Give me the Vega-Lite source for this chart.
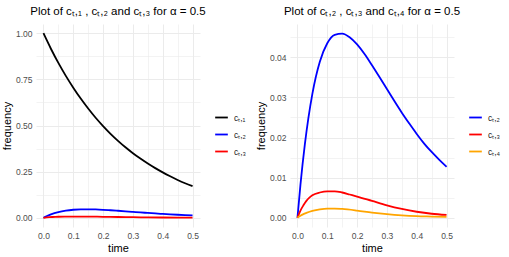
{
  "$schema": "https://vega.github.io/schema/vega-lite/v6.json",
  "padding": {"left": 1, "top": 5, "right": 5, "bottom": 5},
  "background": "white",
  "data": {"values": [
    {"s": "cₜ,₁", "t": 0, "v": 1},
    {"s": "cₜ,₁", "t": 0.025, "v": 0.916},
    {"s": "cₜ,₁", "t": 0.05, "v": 0.839},
    {"s": "cₜ,₁", "t": 0.075, "v": 0.769},
    {"s": "cₜ,₁", "t": 0.1, "v": 0.705},
    {"s": "cₜ,₁", "t": 0.125, "v": 0.646},
    {"s": "cₜ,₁", "t": 0.15, "v": 0.592},
    {"s": "cₜ,₁", "t": 0.175, "v": 0.542},
    {"s": "cₜ,₁", "t": 0.2, "v": 0.497},
    {"s": "cₜ,₁", "t": 0.225, "v": 0.455},
    {"s": "cₜ,₁", "t": 0.25, "v": 0.417},
    {"s": "cₜ,₁", "t": 0.275, "v": 0.382},
    {"s": "cₜ,₁", "t": 0.3, "v": 0.35},
    {"s": "cₜ,₁", "t": 0.325, "v": 0.321},
    {"s": "cₜ,₁", "t": 0.35, "v": 0.294},
    {"s": "cₜ,₁", "t": 0.375, "v": 0.269},
    {"s": "cₜ,₁", "t": 0.4, "v": 0.246},
    {"s": "cₜ,₁", "t": 0.425, "v": 0.225},
    {"s": "cₜ,₁", "t": 0.45, "v": 0.205},
    {"s": "cₜ,₁", "t": 0.475, "v": 0.187},
    {"s": "cₜ,₁", "t": 0.5, "v": 0.171},
    {"s": "cₜ,₂", "t": 0, "v": 0},
    {"s": "cₜ,₂", "t": 0.01, "v": 0.0082},
    {"s": "cₜ,₂", "t": 0.025, "v": 0.0184},
    {"s": "cₜ,₂", "t": 0.05, "v": 0.0309},
    {"s": "cₜ,₂", "t": 0.075, "v": 0.0389},
    {"s": "cₜ,₂", "t": 0.1, "v": 0.0435},
    {"s": "cₜ,₂", "t": 0.125, "v": 0.0456},
    {"s": "cₜ,₂", "t": 0.15, "v": 0.0459},
    {"s": "cₜ,₂", "t": 0.175, "v": 0.045},
    {"s": "cₜ,₂", "t": 0.2, "v": 0.0432},
    {"s": "cₜ,₂", "t": 0.225, "v": 0.0408},
    {"s": "cₜ,₂", "t": 0.25, "v": 0.038},
    {"s": "cₜ,₂", "t": 0.275, "v": 0.0351},
    {"s": "cₜ,₂", "t": 0.3, "v": 0.0321},
    {"s": "cₜ,₂", "t": 0.325, "v": 0.0291},
    {"s": "cₜ,₂", "t": 0.35, "v": 0.0262},
    {"s": "cₜ,₂", "t": 0.375, "v": 0.0235},
    {"s": "cₜ,₂", "t": 0.4, "v": 0.0209},
    {"s": "cₜ,₂", "t": 0.425, "v": 0.0185},
    {"s": "cₜ,₂", "t": 0.45, "v": 0.0164},
    {"s": "cₜ,₂", "t": 0.475, "v": 0.0145},
    {"s": "cₜ,₂", "t": 0.5, "v": 0.0127},
    {"s": "cₜ,₃", "t": 0, "v": 0},
    {"s": "cₜ,₃", "t": 0.01, "v": 0.0018},
    {"s": "cₜ,₃", "t": 0.02, "v": 0.0031},
    {"s": "cₜ,₃", "t": 0.03, "v": 0.0042},
    {"s": "cₜ,₃", "t": 0.04, "v": 0.005},
    {"s": "cₜ,₃", "t": 0.05, "v": 0.0056},
    {"s": "cₜ,₃", "t": 0.075, "v": 0.0063},
    {"s": "cₜ,₃", "t": 0.1, "v": 0.0066},
    {"s": "cₜ,₃", "t": 0.125, "v": 0.0066},
    {"s": "cₜ,₃", "t": 0.15, "v": 0.0063},
    {"s": "cₜ,₃", "t": 0.175, "v": 0.0058},
    {"s": "cₜ,₃", "t": 0.2, "v": 0.0053},
    {"s": "cₜ,₃", "t": 0.25, "v": 0.0042},
    {"s": "cₜ,₃", "t": 0.3, "v": 0.0031},
    {"s": "cₜ,₃", "t": 0.35, "v": 0.0022},
    {"s": "cₜ,₃", "t": 0.4, "v": 0.0015},
    {"s": "cₜ,₃", "t": 0.45, "v": 0.001},
    {"s": "cₜ,₃", "t": 0.5, "v": 0.0007},
    {"s": "cₜ,₄", "t": 0, "v": 0},
    {"s": "cₜ,₄", "t": 0.01, "v": 0.0005},
    {"s": "cₜ,₄", "t": 0.02, "v": 0.0009},
    {"s": "cₜ,₄", "t": 0.03, "v": 0.0012},
    {"s": "cₜ,₄", "t": 0.05, "v": 0.0017},
    {"s": "cₜ,₄", "t": 0.075, "v": 0.0021},
    {"s": "cₜ,₄", "t": 0.1, "v": 0.0023},
    {"s": "cₜ,₄", "t": 0.125, "v": 0.0023},
    {"s": "cₜ,₄", "t": 0.15, "v": 0.0022},
    {"s": "cₜ,₄", "t": 0.2, "v": 0.0018},
    {"s": "cₜ,₄", "t": 0.25, "v": 0.0013},
    {"s": "cₜ,₄", "t": 0.3, "v": 0.0009},
    {"s": "cₜ,₄", "t": 0.35, "v": 0.0006},
    {"s": "cₜ,₄", "t": 0.4, "v": 0.0004},
    {"s": "cₜ,₄", "t": 0.45, "v": 0.0003},
    {"s": "cₜ,₄", "t": 0.5, "v": 0.0002}
  ]},
  "config": {
    "font": "Liberation Sans",
    "view": {"stroke": null},
    "axis": {
      "ticks": false, "domain": false,
      "labelColor": "#4D4D4D", "labelFontSize": 8.5, "labelPadding": 4,
      "titleFontSize": 11, "titleFontWeight": "normal", "titleColor": "#000000",
      "titlePadding": 3,
      "gridColor": "#EBEBEB"
    },
    "legend": {
      "title": null, "symbolType": "stroke", "symbolStrokeWidth": 1.8, "symbolSize": 160,
      "labelFontSize": 8.5, "labelColor": "#1a1a1a", "rowPadding": 5, "labelOffset": 5, "padding": 0
    },
    "title": {"fontSize": 11.5, "fontWeight": "normal", "color": "#000000", "frame": "group", "anchor": "middle", "offset": 7}
  },
  "spacing": 8,
  "resolve": {"scale": {"color": "independent", "y": "independent"}, "legend": {"color": "independent"}},
  "hconcat": [
    {
      "title": "Plot of cₜ,₁ , cₜ,₂ and cₜ,₃ for α = 0.5",
      "width": 164, "height": 203,
      "transform": [{"filter": {"field": "s", "oneOf": ["cₜ,₁", "cₜ,₂", "cₜ,₃"]}}],
      "mark": {"type": "line", "strokeWidth": 1.8, "interpolate": "monotone"},
      "encoding": {
        "x": {"field": "t", "type": "quantitative", "title": "time",
          "scale": {"domain": [-0.025, 0.525], "nice": false, "zero": false},
          "axis": {"values": [0, 0.05, 0.1, 0.15, 0.2, 0.25, 0.3, 0.35, 0.4, 0.45, 0.5],
            "labelExpr": "round(datum.value*100) % 10 == 0 ? format(datum.value, '.1f') : ''",
            "gridWidth": {"condition": {"test": "round(datum.value*100) % 10 == 0", "value": 1}, "value": 0.6}}},
        "y": {"field": "v", "type": "quantitative", "title": "frequency",
          "scale": {"domain": [-0.05, 1.05], "nice": false, "zero": false},
          "axis": {"values": [0, 0.125, 0.25, 0.375, 0.5, 0.625, 0.75, 0.875, 1],
            "labelExpr": "round(datum.value*1000) % 250 == 0 ? format(datum.value, '.2f') : ''",
            "gridWidth": {"condition": {"test": "round(datum.value*1000) % 250 == 0", "value": 1}, "value": 0.6}}},
        "color": {"field": "s", "type": "nominal",
          "scale": {"domain": ["cₜ,₁", "cₜ,₂", "cₜ,₃"], "range": ["#000000", "#0000FF", "#FF0000"]},
          "legend": {"orient": "none", "legendX": 178, "legendY": 86}}
      }
    },
    {
      "title": "Plot of cₜ,₂ , cₜ,₃ and cₜ,₄ for α = 0.5",
      "width": 164, "height": 203,
      "transform": [{"filter": {"field": "s", "oneOf": ["cₜ,₂", "cₜ,₃", "cₜ,₄"]}}],
      "mark": {"type": "line", "strokeWidth": 1.8, "interpolate": "monotone"},
      "encoding": {
        "x": {"field": "t", "type": "quantitative", "title": "time",
          "scale": {"domain": [-0.025, 0.525], "nice": false, "zero": false},
          "axis": {"values": [0, 0.05, 0.1, 0.15, 0.2, 0.25, 0.3, 0.35, 0.4, 0.45, 0.5],
            "labelExpr": "round(datum.value*100) % 10 == 0 ? format(datum.value, '.1f') : ''",
            "gridWidth": {"condition": {"test": "round(datum.value*100) % 10 == 0", "value": 1}, "value": 0.6}}},
        "y": {"field": "v", "type": "quantitative", "title": "frequency",
          "scale": {"domain": [-0.0023, 0.0483], "nice": false, "zero": false},
          "axis": {"values": [0, 0.005, 0.01, 0.015, 0.02, 0.025, 0.03, 0.035, 0.04, 0.045],
            "labelExpr": "round(datum.value*1000) % 10 == 0 ? format(datum.value, '.2f') : ''",
            "gridWidth": {"condition": {"test": "round(datum.value*1000) % 10 == 0", "value": 1}, "value": 0.6}}},
        "color": {"field": "s", "type": "nominal",
          "scale": {"domain": ["cₜ,₂", "cₜ,₃", "cₜ,₄"], "range": ["#0000FF", "#FF0000", "#FFA500"]},
          "legend": {"orient": "none", "legendX": 178, "legendY": 86}}
      }
    }
  ]
}
